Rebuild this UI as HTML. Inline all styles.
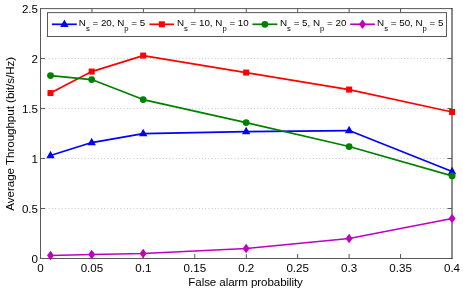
<!DOCTYPE html>
<html><head><meta charset="utf-8"><title>chart</title>
<style>
html,body{margin:0;padding:0;background:#fff;}
body{width:463px;height:291px;overflow:hidden;}
svg{display:block;}
text{font-family:"Liberation Sans",sans-serif;fill:#000;}
</style></head><body>
<svg width="463" height="291" viewBox="0 0 463 291" style="will-change:transform">
<rect width="463" height="291" fill="#fff"/>
<g stroke="#bebebe" stroke-width="1" stroke-dasharray="0.85 2.41">
<line x1="45.5" y1="208.52" x2="448.0" y2="208.52"/>
<line x1="45.5" y1="158.54" x2="448.0" y2="158.54"/>
<line x1="45.5" y1="108.56" x2="448.0" y2="108.56"/>
<line x1="45.5" y1="58.58" x2="448.0" y2="58.58"/>
</g>
<path d="M40.5 8.1 V259.0 M40.0 258.5 H452.5 M40.0 8.6 H452.5" fill="none" stroke="#585858" stroke-width="1"/>
<path d="M452.0 8.1 V259.0" fill="none" stroke="#1a1a1a" stroke-width="1"/>
<g stroke="#585858" stroke-width="1">
<line x1="91.94" y1="258.5" x2="91.94" y2="254.0"/>
<line x1="91.94" y1="8.6" x2="91.94" y2="13.1"/>
<line x1="143.38" y1="258.5" x2="143.38" y2="254.0"/>
<line x1="143.38" y1="8.6" x2="143.38" y2="13.1"/>
<line x1="194.81" y1="258.5" x2="194.81" y2="254.0"/>
<line x1="194.81" y1="8.6" x2="194.81" y2="13.1"/>
<line x1="246.25" y1="258.5" x2="246.25" y2="254.0"/>
<line x1="246.25" y1="8.6" x2="246.25" y2="13.1"/>
<line x1="297.69" y1="258.5" x2="297.69" y2="254.0"/>
<line x1="297.69" y1="8.6" x2="297.69" y2="13.1"/>
<line x1="349.12" y1="258.5" x2="349.12" y2="254.0"/>
<line x1="349.12" y1="8.6" x2="349.12" y2="13.1"/>
<line x1="400.56" y1="258.5" x2="400.56" y2="254.0"/>
<line x1="400.56" y1="8.6" x2="400.56" y2="13.1"/>
<line x1="40.5" y1="208.52" x2="45.0" y2="208.52"/>
<line x1="452.0" y1="208.52" x2="447.5" y2="208.52"/>
<line x1="40.5" y1="158.54" x2="45.0" y2="158.54"/>
<line x1="452.0" y1="158.54" x2="447.5" y2="158.54"/>
<line x1="40.5" y1="108.56" x2="45.0" y2="108.56"/>
<line x1="452.0" y1="108.56" x2="447.5" y2="108.56"/>
<line x1="40.5" y1="58.58" x2="45.0" y2="58.58"/>
<line x1="452.0" y1="58.58" x2="447.5" y2="58.58"/>
</g>
<polyline points="50.50,155.54 91.69,142.55 143.18,133.55 246.15,131.55 349.12,130.55 452.10,171.53" fill="none" stroke="#0000ff" stroke-width="1.7" stroke-linejoin="round"/>
<path d="M46.30 158.14 L54.70 158.14 L50.50 150.64 Z" fill="#0000ff"/>
<path d="M87.49 145.15 L95.89 145.15 L91.69 137.65 Z" fill="#0000ff"/>
<path d="M138.98 136.15 L147.38 136.15 L143.18 128.65 Z" fill="#0000ff"/>
<path d="M241.95 134.15 L250.35 134.15 L246.15 126.65 Z" fill="#0000ff"/>
<path d="M344.93 133.15 L353.32 133.15 L349.12 125.65 Z" fill="#0000ff"/>
<path d="M447.90 174.13 L456.30 174.13 L452.10 166.63 Z" fill="#0000ff"/>
<polyline points="50.50,93.07 91.69,71.57 143.18,55.58 246.15,72.57 349.12,89.57 452.10,111.96" fill="none" stroke="#ff0000" stroke-width="1.7" stroke-linejoin="round"/>
<rect x="47.50" y="90.07" width="6" height="6" fill="#ff0000"/>
<rect x="88.69" y="68.57" width="6" height="6" fill="#ff0000"/>
<rect x="140.18" y="52.58" width="6" height="6" fill="#ff0000"/>
<rect x="243.15" y="69.57" width="6" height="6" fill="#ff0000"/>
<rect x="346.12" y="86.57" width="6" height="6" fill="#ff0000"/>
<rect x="449.10" y="108.96" width="6" height="6" fill="#ff0000"/>
<polyline points="50.50,75.57 91.69,79.57 143.18,99.56 246.15,122.55 349.12,146.54 452.10,175.93" fill="none" stroke="#008000" stroke-width="1.7" stroke-linejoin="round"/>
<circle cx="50.50" cy="75.57" r="3.4" fill="#008000"/>
<circle cx="91.69" cy="79.57" r="3.4" fill="#008000"/>
<circle cx="143.18" cy="99.56" r="3.4" fill="#008000"/>
<circle cx="246.15" cy="122.55" r="3.4" fill="#008000"/>
<circle cx="349.12" cy="146.54" r="3.4" fill="#008000"/>
<circle cx="452.10" cy="175.93" r="3.4" fill="#008000"/>
<polyline points="50.50,255.50 91.69,254.50 143.18,253.50 246.15,248.50 349.12,238.51 452.10,218.52" fill="none" stroke="#bf00bf" stroke-width="1.7" stroke-linejoin="round"/>
<path d="M47.00 255.50 L50.50 250.80 L54.00 255.50 L50.50 260.20 Z" fill="#bf00bf"/>
<path d="M88.19 254.50 L91.69 249.80 L95.19 254.50 L91.69 259.20 Z" fill="#bf00bf"/>
<path d="M139.68 253.50 L143.18 248.80 L146.68 253.50 L143.18 258.20 Z" fill="#bf00bf"/>
<path d="M242.65 248.50 L246.15 243.80 L249.65 248.50 L246.15 253.20 Z" fill="#bf00bf"/>
<path d="M345.62 238.51 L349.12 233.81 L352.62 238.51 L349.12 243.21 Z" fill="#bf00bf"/>
<path d="M448.60 218.52 L452.10 213.82 L455.60 218.52 L452.10 223.22 Z" fill="#bf00bf"/>
<text x="40.50" y="271.6" font-size="11.6" text-anchor="middle">0</text>
<text x="91.94" y="271.6" font-size="11.6" text-anchor="middle">0.05</text>
<text x="143.38" y="271.6" font-size="11.6" text-anchor="middle">0.1</text>
<text x="194.81" y="271.6" font-size="11.6" text-anchor="middle">0.15</text>
<text x="246.25" y="271.6" font-size="11.6" text-anchor="middle">0.2</text>
<text x="297.69" y="271.6" font-size="11.6" text-anchor="middle">0.25</text>
<text x="349.12" y="271.6" font-size="11.6" text-anchor="middle">0.3</text>
<text x="400.56" y="271.6" font-size="11.6" text-anchor="middle">0.35</text>
<text x="452.00" y="271.6" font-size="11.6" text-anchor="middle">0.4</text>
<text x="38" y="263.00" font-size="11.6" text-anchor="end">0</text>
<text x="38" y="213.02" font-size="11.6" text-anchor="end">0.5</text>
<text x="38" y="163.04" font-size="11.6" text-anchor="end">1</text>
<text x="38" y="113.06" font-size="11.6" text-anchor="end">1.5</text>
<text x="38" y="63.08" font-size="11.6" text-anchor="end">2</text>
<text x="38" y="13.10" font-size="11.6" text-anchor="end">2.5</text>
<text x="245.6" y="286.1" font-size="11.6" text-anchor="middle" textLength="114.6" lengthAdjust="spacing">False alarm probability</text>
<text transform="translate(13.8,133.8) rotate(-90)" font-size="11.6" text-anchor="middle" textLength="153.8" lengthAdjust="spacing">Average Throughput (bit/s/Hz)</text>
<rect x="47.5" y="12.6" width="399.0" height="23.9" fill="#fff" stroke="#585858" stroke-width="1"/>
<line x1="51.9" y1="24.3" x2="76.8" y2="24.3" stroke="#0000ff" stroke-width="1.7"/>
<path d="M60.20 26.90 L68.60 26.90 L64.40 19.40 Z" fill="#0000ff"/>
<text x="78.8" y="25.7" font-size="9.8">N<tspan font-size="7.7" dy="5.5">s</tspan><tspan dy="-5.5"> = 20, N</tspan><tspan font-size="7.7" dy="5.5">p</tspan><tspan dy="-5.5"> = 5</tspan></text>
<line x1="149.5" y1="24.3" x2="174" y2="24.3" stroke="#ff0000" stroke-width="1.7"/>
<rect x="158.90" y="21.30" width="6" height="6" fill="#ff0000"/>
<text x="176.9" y="25.7" font-size="9.8">N<tspan font-size="7.7" dy="5.5">s</tspan><tspan dy="-5.5"> = 10, N</tspan><tspan font-size="7.7" dy="5.5">p</tspan><tspan dy="-5.5"> = 10</tspan></text>
<line x1="252.4" y1="24.3" x2="277.3" y2="24.3" stroke="#008000" stroke-width="1.7"/>
<circle cx="264.90" cy="24.30" r="3.4" fill="#008000"/>
<text x="280.0" y="25.7" font-size="9.8">N<tspan font-size="7.7" dy="5.5">s</tspan><tspan dy="-5.5"> = 5, N</tspan><tspan font-size="7.7" dy="5.5">p</tspan><tspan dy="-5.5"> = 20</tspan></text>
<line x1="350.2" y1="24.3" x2="374.9" y2="24.3" stroke="#bf00bf" stroke-width="1.7"/>
<path d="M359.00 24.30 L362.50 19.60 L366.00 24.30 L362.50 29.00 Z" fill="#bf00bf"/>
<text x="377.1" y="25.7" font-size="9.8">N<tspan font-size="7.7" dy="5.5">s</tspan><tspan dy="-5.5"> = 50, N</tspan><tspan font-size="7.7" dy="5.5">p</tspan><tspan dy="-5.5"> = 5</tspan></text>
</svg>
</body></html>
